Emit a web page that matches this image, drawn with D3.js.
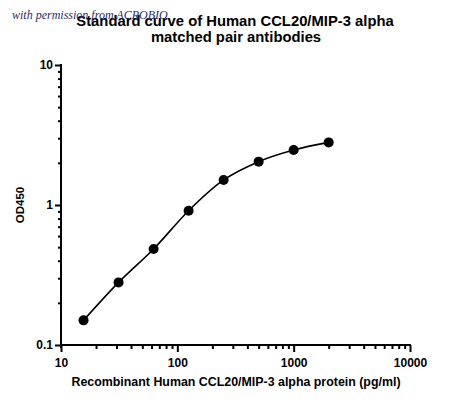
<!DOCTYPE html>
<html>
<head>
<meta charset="utf-8">
<script src="https://cdn.jsdelivr.net/npm/d3@7"></script>
<style>
  body { margin: 0; background: #fff; }
  svg { display: block; font-family: "Liberation Sans", Arial, sans-serif; }
  .title { font-weight: bold; font-size: 14.8px; }
  .tick text { font-weight: bold; font-size: 12px; fill: #000; }
  .axis-title { font-weight: bold; font-size: 12.4px; }
  .ylab { font-weight: bold; font-size: 11.5px; }
  .mark { font-family: "Liberation Serif", serif; font-style: italic; font-size: 12px; fill: #1f2d6b; }
</style>
</head>
<body>
<script>
// concentrations (pg/ml) and OD450 readings
var conc = [15.625, 31.25, 62.5, 125, 250, 500, 1000, 2000];
var od = [0.150, 0.280, 0.485, 0.91, 1.51, 2.04, 2.47, 2.80];
var xTickLabels = [10, 100, 1000, 10000];
var yTickLabels = [0.1, 1, 10];

var width = 450, height = 404;
var margin = {top: 65, right: 40, bottom: 59, left: 61};

var svg = d3.select("body").append("svg")
    .attr("width", width)
    .attr("height", height);

var x = d3.scaleLog().domain([10, 10000]).range([margin.left, width - margin.right]);
var y = d3.scaleLog().domain([0.1, 10]).range([height - margin.bottom, margin.top]);

// minor ticks 2..9 per decade
function minors(lo, hi) {
  var out = [];
  for (var d = lo; d < hi; d *= 10)
    for (var k = 2; k <= 9; k++) out.push(d * k);
  return out;
}

// x axis
var gx = svg.append("g").attr("transform", "translate(0," + y(0.1) + ")");
gx.append("g")
  .call(d3.axisBottom(x).tickValues(minors(10, 10000)).tickSize(4).tickFormat(""))
  .call(g => g.select(".domain").remove());
gx.append("g")
  .call(d3.axisBottom(x).tickValues(xTickLabels).tickSize(7).tickPadding(6).tickFormat(d3.format("d")))
  .call(g => g.select(".domain").attr("d", "M" + x(10) + ",0H" + (x(10000) + 1)));

// y axis
var gy = svg.append("g").attr("transform", "translate(" + x(10) + ",0)");
gy.append("g")
  .call(d3.axisLeft(y).tickValues(minors(0.1, 10)).tickSize(3).tickFormat(""))
  .call(g => g.select(".domain").remove());
gy.append("g")
  .call(d3.axisLeft(y).tickValues(yTickLabels).tickSize(6).tickPadding(2).tickFormat(d => d < 1 ? "0.1" : d3.format("d")(d)))
  .call(g => g.select(".domain").attr("d", "M0," + (y(10) - 1) + "V" + (y(0.1) + 3)));

svg.selectAll(".domain, .tick line").attr("stroke", "#000").attr("stroke-width", 2);
svg.selectAll(".tick text").attr("font-family", null).attr("font-size", null);

// fitted curve
var pts = conc.map((c, i) => [c, od[i]]);
svg.append("path")
  .datum(pts)
  .attr("fill", "none")
  .attr("stroke", "#000")
  .attr("stroke-width", 1.6)
  .attr("d", d3.line().x(d => x(d[0])).y(d => y(d[1])).curve(d3.curveMonotoneX));

svg.selectAll("circle.pt")
  .data(pts)
  .join("circle")
  .attr("class", "pt")
  .attr("cx", d => x(d[0]))
  .attr("cy", d => y(d[1]))
  .attr("r", 5)
  .attr("fill", "#000");

// titles
svg.append("text").attr("class", "title").attr("x", 235).attr("y", 26)
  .attr("text-anchor", "middle").text("Standard curve of Human CCL20/MIP-3 alpha");
svg.append("text").attr("class", "title").attr("x", 236).attr("y", 42)
  .attr("text-anchor", "middle").text("matched pair antibodies");

svg.append("text").attr("class", "axis-title").attr("x", 236).attr("y", 386)
  .attr("text-anchor", "middle").text("Recombinant Human CCL20/MIP-3 alpha protein (pg/ml)");

svg.append("text").attr("class", "ylab")
  .attr("transform", "translate(24,205) rotate(-90)")
  .attr("text-anchor", "middle").text("OD450");

svg.append("text").attr("class", "mark").attr("x", 12).attr("y", 19)
  .text("with permission from ACROBIO");
</script>
</body>
</html>
